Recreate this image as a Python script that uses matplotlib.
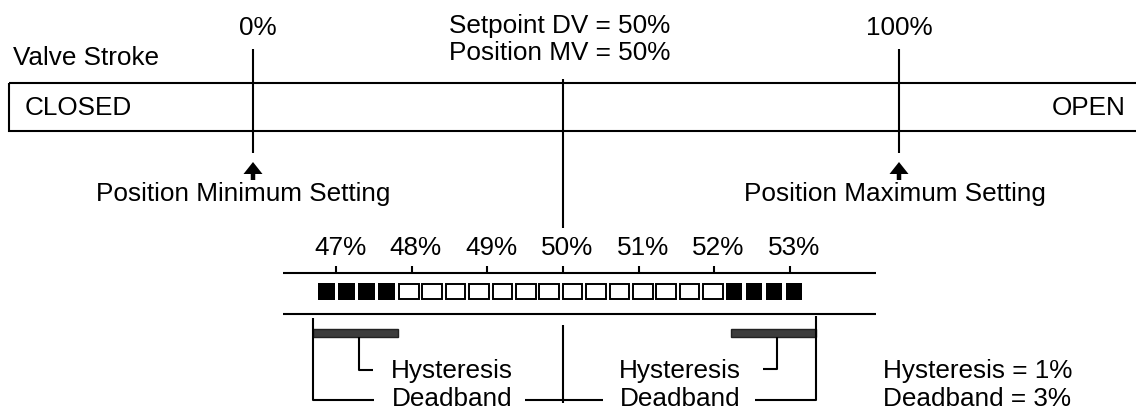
import matplotlib.pyplot as plt
from matplotlib.patches import Rectangle, FancyArrow

plt.rcParams['font.family'] = ['Liberation Sans', 'DejaVu Sans']

# valve stroke (upper bar)
stroke_pct = [0, 100]
stroke_labels = ["0%", "100%"]
setting_labels = ["Position Minimum Setting", "Position Maximum Setting"]
setpoint = 50

# zoomed scale (lower bar)
scale_pct = [47, 48, 49, 50, 51, 52, 53]
scale_labels = ["47%", "48%", "49%", "50%", "51%", "52%", "53%"]
# 1 = filled square, 0 = open square
squares = [1, 1, 1, 1, 0, 0, 0, 0, 0, 0, 0, 0, 0, 0, 0, 0, 0, 0, 1, 1, 1, 1]
hysteresis = 1
deadband = 3

FS = 18.8
LW = 1.5


def x_top(p):
    return 253 + 6.46 * p


def x_low(p):
    return 563 + 75.6 * (p - 50)


fig = plt.figure(figsize=(11.36, 4.12), dpi=100)
ax = fig.add_axes([0, 0, 1, 1])
ax.set_xlim(0, 1136)
ax.set_ylim(412, 0)
ax.axis("off")


def line(xs, ys):
    ax.plot(xs, ys, color="black", lw=LW, solid_capstyle="butt")


# --- valve stroke box ---
ax.text(13, 65, "Valve Stroke", fontsize=FS, va="baseline")
ax.add_patch(Rectangle((9, 83), 1132, 48, fill=False, lw=LW, ec="black"))
ax.text(25, 115, "CLOSED", fontsize=FS, va="baseline")
ax.text(1126, 115, "OPEN", fontsize=FS, va="baseline", ha="right")

for p, lab, sl, lx in zip(stroke_pct, stroke_labels, setting_labels, [243, 895]):
    x = x_top(p)
    line([x, x], [49, 153])
    ax.text(x + 5 if p == 0 else x, 35, lab, fontsize=FS, ha="center", va="baseline")
    ax.add_patch(FancyArrow(x, 180, 0, -18, width=4.5, head_width=19, head_length=12,
                            length_includes_head=True, color="black", lw=0))
    ax.text(lx, 201, sl, fontsize=FS, ha="center", va="baseline")

xs = x_low(setpoint)
ax.text(560, 33, f"Setpoint DV = {setpoint}%", fontsize=FS, ha="center", va="baseline")
ax.text(560, 60, f"Position MV = {setpoint}%", fontsize=FS, ha="center", va="baseline")
line([xs, xs], [79, 228])

# --- lower scale ---
line([283, 876], [273, 273])
line([283, 876], [314, 314])
for p, lab in zip(scale_pct, scale_labels):
    x = x_low(p)
    line([x, x], [266, 273])
    ax.text(x + 4, 255, lab, fontsize=FS, ha="center", va="baseline")

x = 318
for s in squares:
    if s:
        ax.add_patch(Rectangle((x, 283.3), 16.7, 16.7, fc="black", ec="none"))
        x += 20
    else:
        ax.add_patch(Rectangle((x + 1, 284.3), 19.7, 14.7, fc="white", ec="black", lw=1.4))
        x += 23.4

# hysteresis bars
hy_w = 85
for x0 in [313, 731]:
    ax.add_patch(Rectangle((x0, 329), hy_w, 8, fc="#3c3c3c", ec="#222222", lw=1))

# connectors left
line([359, 359, 373], [337, 370, 370])
line([313, 313, 374], [318, 400, 400])
ax.text(452, 378, "Hysteresis", fontsize=FS, ha="center", va="baseline")
ax.text(452, 406.5, "Deadband", fontsize=FS, ha="center", va="baseline")

# centre
line([525, 603], [400, 400])
line([xs, xs], [325, 403])

# connectors right
line([763, 777, 777], [369, 369, 337])
line([755, 816, 816], [400, 400, 316])
ax.text(680, 378, "Hysteresis", fontsize=FS, ha="center", va="baseline")
ax.text(680, 406.5, "Deadband", fontsize=FS, ha="center", va="baseline")

ax.text(883, 378, f"Hysteresis = {hysteresis}%", fontsize=FS, va="baseline")
ax.text(883, 406.5, f"Deadband = {deadband}%", fontsize=FS, va="baseline")

fig.savefig("out.png", dpi=100)
